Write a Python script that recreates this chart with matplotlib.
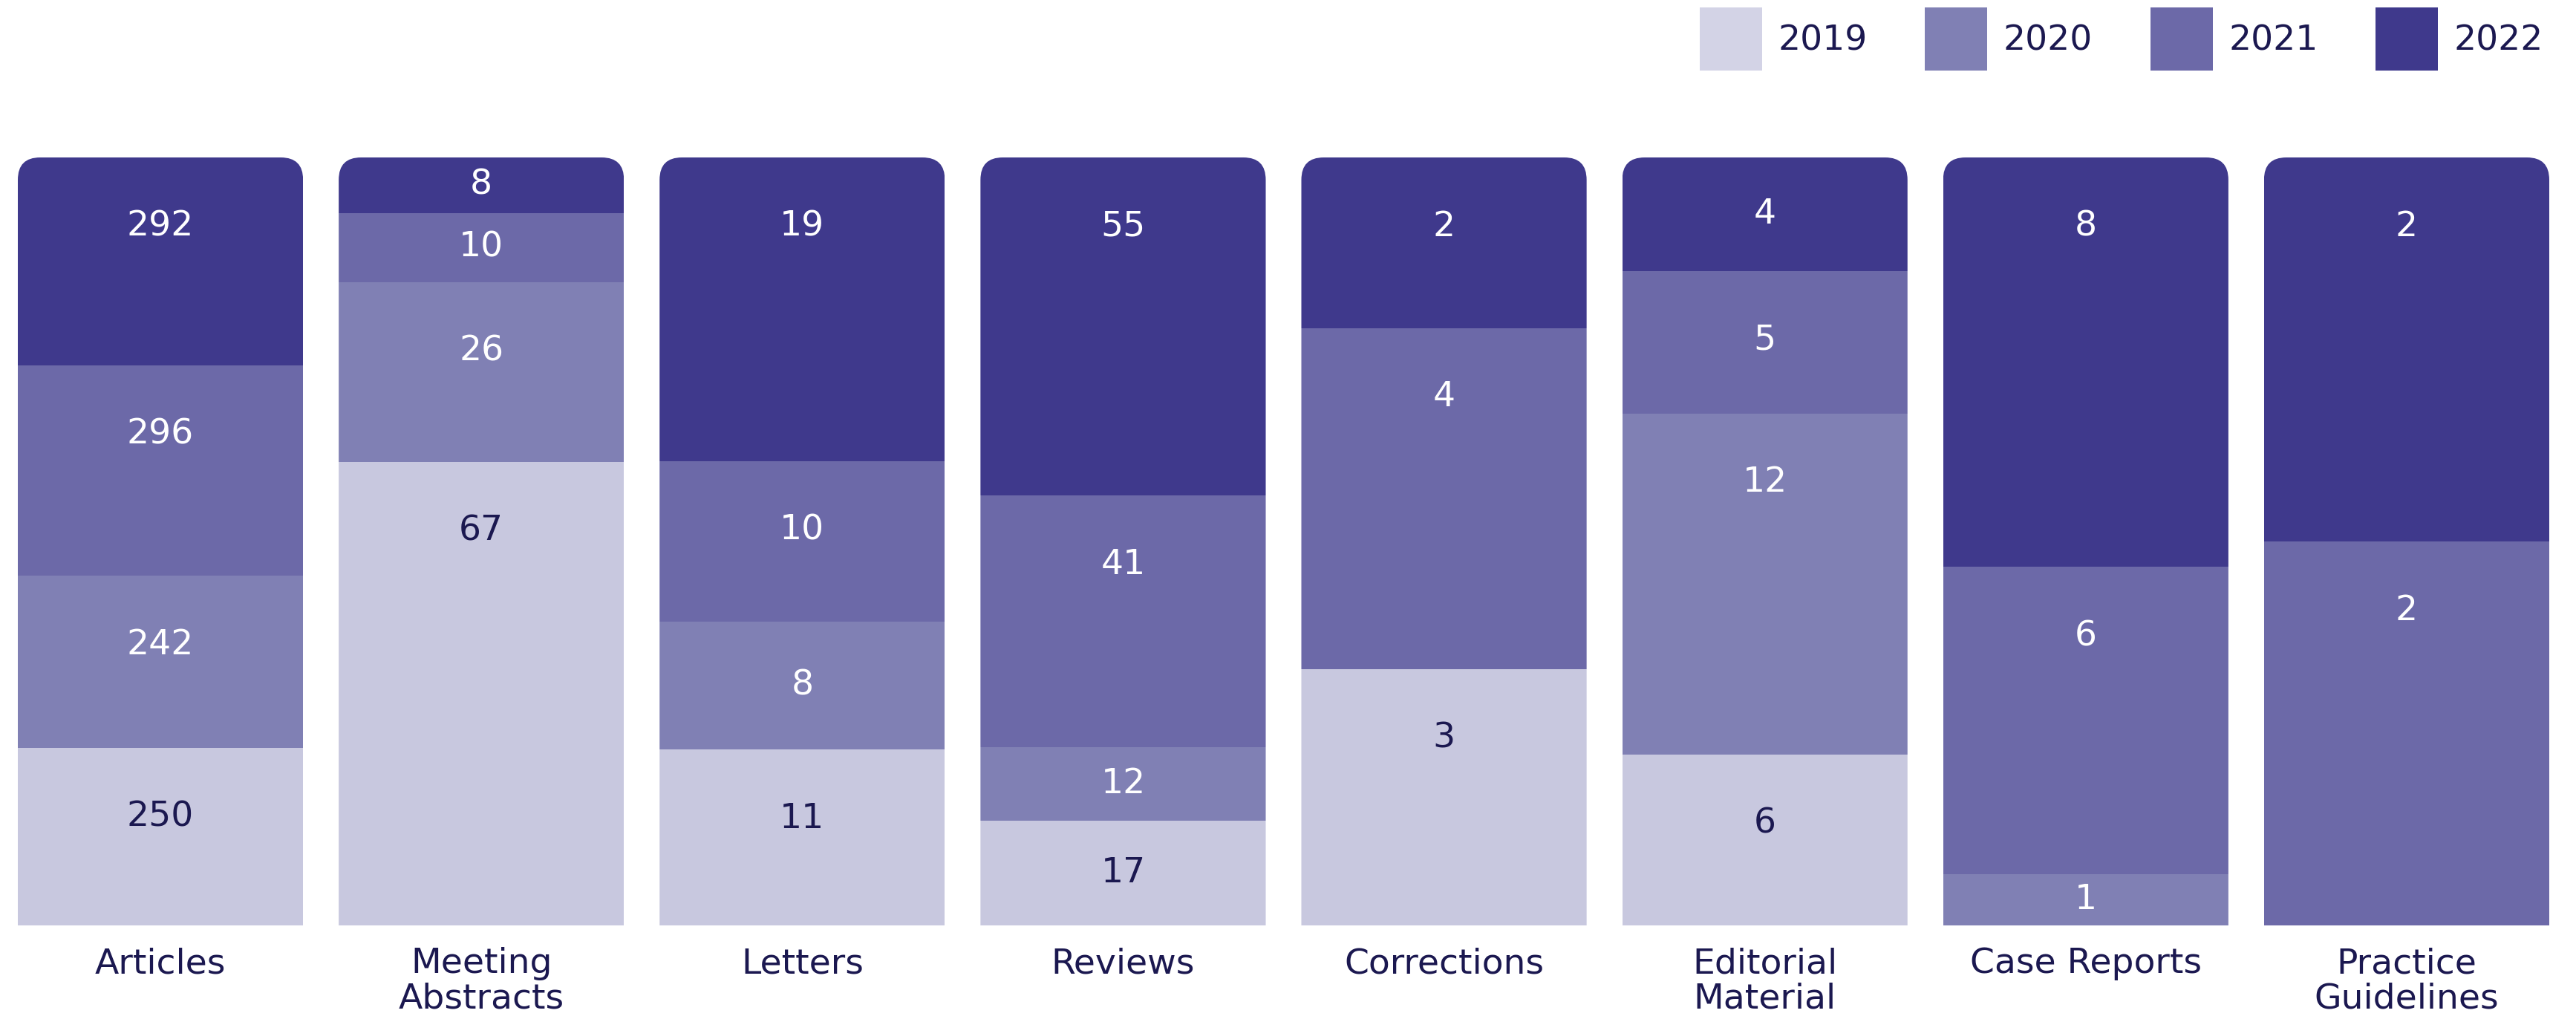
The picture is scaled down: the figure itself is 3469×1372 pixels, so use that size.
import numpy as np
import matplotlib
matplotlib.use("Agg")
import matplotlib.pyplot as plt
from matplotlib.patches import FancyBboxPatch, Patch

categories = ["Articles", "Meeting\nAbstracts", "Letters", "Reviews", "Corrections",
              "Editorial\nMaterial", "Case Reports", "Practice\nGuidelines"]
years = ["2019", "2020", "2021", "2022"]
v2019 = [250, 67, 11, 17, 3, 6, 0, 0]
v2020 = [242, 26, 8, 12, 0, 12, 1, 0]
v2021 = [296, 10, 10, 41, 4, 5, 6, 2]
v2022 = [292, 8, 19, 55, 2, 4, 8, 2]
colors = ["#C8C8DF", "#8080B4", "#6C69A8", "#3F398C"]
legend_colors = ["#D3D3E6", "#8080B4", "#6C69A8", "#3F398C"]
label_colors = ["#1B1850", "white", "white", "white"]
text_dark = "#1B1850"

plt.rcParams['font.family'] = ['DejaVu Sans']

W, H, DPI = 3469, 1372, 100
fig = plt.figure(figsize=(W / DPI, H / DPI), dpi=DPI)

# axes placed in pixel terms
left_px, right_px, top_px, bot_px = 24, 3433, 212, 1246
ax = fig.add_axes([left_px / W, 1 - bot_px / H, (right_px - left_px) / W, (bot_px - top_px) / H])

series = np.array([v2019, v2020, v2021, v2022], dtype=float)
totals = series.sum(axis=0)
pct = series / totals * 100

x = np.arange(len(categories))
bw = 0.889
fs = 34
fs_px = fs * DPI / 72

bottom = np.zeros(len(categories))
bars_all = []
for i, yr in enumerate(years):
    bars = ax.bar(x, pct[i], bw, bottom=bottom, color=colors[i], linewidth=0)
    bars_all.append(bars)
    for j in range(len(categories)):
        if series[i, j] == 0:
            continue
        h = pct[i, j]
        top = bottom[j] + h
        ypos = max(top - h / 2, top - 9)
        ax.text(x[j], ypos, f"{int(series[i, j])}", ha="center", va="center",
                color=label_colors[i], fontsize=fs)
    bottom += pct[i]

ax.set_xlim(-bw / 2, len(categories) - 1 + bw / 2)
ax.set_ylim(0, 100)

# rounded top corners via clipping
px_per_x = (right_px - left_px) / (len(categories) - 1 + bw)
px_per_y = (bot_px - top_px) / 100
r_px = 30
r_x = r_px / px_per_x
aspect = (r_px / px_per_y) / r_x
for j in range(len(categories)):
    clip = FancyBboxPatch((x[j] - bw / 2, -20), bw, 120,
                          boxstyle=f"round,pad=0,rounding_size={r_x}",
                          mutation_aspect=aspect, transform=ax.transData)
    for bars in bars_all:
        bars[j].set_clip_path(clip)

ax.set_xticks(x)
ax.set_xticklabels(categories, fontsize=fs, color=text_dark, linespacing=1.07)
ax.tick_params(axis="x", length=0, pad=21)
ax.set_yticks([])
for s in ax.spines.values():
    s.set_visible(False)

handles = [Patch(facecolor=c, edgecolor="none") for c in legend_colors]
fig.legend(handles, years, loc="upper right", bbox_to_anchor=(3425 / W, 1 - 10 / H),
           ncol=4, frameon=False, fontsize=fs, handlelength=84 / fs_px, handleheight=2.4,
           handletextpad=0.45, columnspacing=1.65, borderpad=0, borderaxespad=0,
           labelcolor=text_dark)

fig.savefig("out.png", dpi=DPI, facecolor="white")
